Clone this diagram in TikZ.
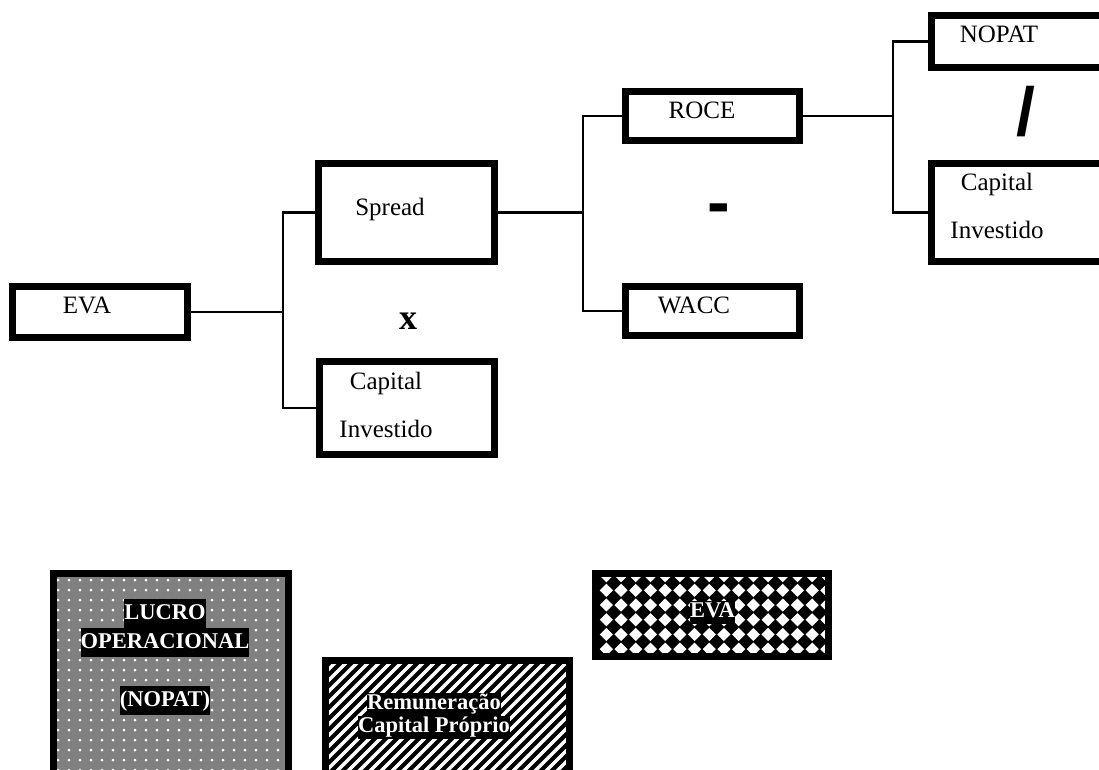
\documentclass[tikz,border=0pt]{standalone}
\usepackage{fontspec}
\setmainfont{Liberation Serif}
\newfontfamily\opfont{Liberation Sans}
\usetikzlibrary{calc}

\newcommand\blackbg[1]{{\setlength\fboxsep{0pt}\colorbox{black}{\strut#1}}}

\begin{document}
\begin{tikzpicture}[x=1pt, y=-1pt,
        box/.style={draw=black, line width=7pt, fill=white, inner sep=0pt},
        txt/.style={inner sep=0pt, font=\fontsize{25}{48}\selectfont, text height=17pt, text depth=5pt},
        txtml/.style={inner sep=0pt, align=center, font=\fontsize{25}{48}\selectfont},
        op/.style={anchor=base, inner sep=0pt},
        link/.style={draw=black, line width=2.5pt},
        hl/.style={inner sep=0pt, align=center, text=white, font=\fontsize{22.5}{23}\selectfont\bfseries},
        dotted box/.style={box, fill=black!50, path picture={
            \foreach \i in {0,...,22} \foreach \j in {0,...,21}
              \fill[white] ($(path picture bounding box.north west)+(4.5+\i*11, 6.5+\j*10)$) circle (1.5);}},
        striped box/.style={box, path picture={
            \foreach \k in {-30,...,25}
              \draw[line width=4pt] ($(path picture bounding box.south west)+(\k*11,0)$) -- ++(320,-320);}},
        chequered box/.style={box, path picture={
            \foreach \i in {0,...,16} \foreach \j in {-1,...,5}
              \fill[black] ($(path picture bounding box.north west)+(3.5+\i*14.7, 9.5+\j*14.7)$)
                +(7.9,0) -- +(0,7.9) -- +(-7.9,0) -- +(0,-7.9) -- cycle;}}
      ]
        \clip (0,0) rectangle (1099,770);

        \node[box, minimum width=175pt, minimum height=51pt] (eva)     at (100,312)    {};
        \node[box, minimum width=176pt, minimum height=98pt] (spread)  at (406.5,212.5) {};
        \node[box, minimum width=175pt, minimum height=93pt] (capinv)  at (407,408)    {};
        \node[box, minimum width=174pt, minimum height=49pt] (roce)    at (712.5,116)  {};
        \node[box, minimum width=174pt, minimum height=49pt] (wacc)    at (712.5,311)  {};
        \node[box, minimum width=175pt, minimum height=52pt] (nopat)   at (1019,41.5)  {};
        \node[box, minimum width=175pt, minimum height=98pt] (capinv2) at (1019,212.5) {};

        \node[txt]   (evatxt)     at (87,307)  {EVA};
        \node[txt]   (spreadtxt)  at (390,209) {Spread};
        \node[txtml] (capinvtxt)  at (386,405) {Capital\\Investido};
        \node[txt]   (rocetxt)    at (702,113) {ROCE};
        \node[txt]   (wacctxt)    at (694,307) {WACC};
        \node[txt]   (nopattxt)   at (999,37)  {NOPAT};
        \node[txtml] (capinv2txt) at (997,206) {Capital\\Investido};

        \node[op, font=\fontsize{36}{36}\selectfont\bfseries] (times) at (408,329) {x};
        \node[op, font=\opfont\fontsize{68}{68}\selectfont\bfseries] (minus) at (719,225) {-};
        \node[op, font=\opfont\fontsize{68}{68}\selectfont\bfseries] (divide) at (1025.5,135.6) {/};

        \draw[link] (eva.east) -- ++(92,0) coordinate (j1);
        \draw[link] (spread.west) -| (j1) |- (capinv.west);
        \draw[link] (spread.east) -- ++(85,0) coordinate (j2);
        \draw[link] (roce.west) -| (j2) |- (wacc.west);
        \draw[link] (roce.east) -- ++(90,0) coordinate (j3);
        \draw[link] (nopat.west) -| (j3) |- (capinv2.west);

        \node[dotted box, minimum width=235pt, minimum height=236.5pt] (lucro) at (171,691.75) {};
        \node[striped box, minimum width=244pt, minimum height=149.5pt] (remun) at (447.5,735.25) {};
        \node[chequered box, minimum width=233pt, minimum height=83pt] (evab) at (712,615) {};

        \node[hl, font=\fontsize{22.5}{29}\selectfont\bfseries] (lucrotxt) at (165,657)
          {\blackbg{LUCRO}\\\blackbg{OPERACIONAL}\\[29pt]\blackbg{(NOPAT)}};
        \node[hl] (remuntxt) at (434,716) {\blackbg{Remuneração}\\\blackbg{Capital Próprio}};
        \node[hl] (evabtxt)  at (712.5,612.5) {\blackbg{EVA}};
      \end{tikzpicture}
\end{document}
